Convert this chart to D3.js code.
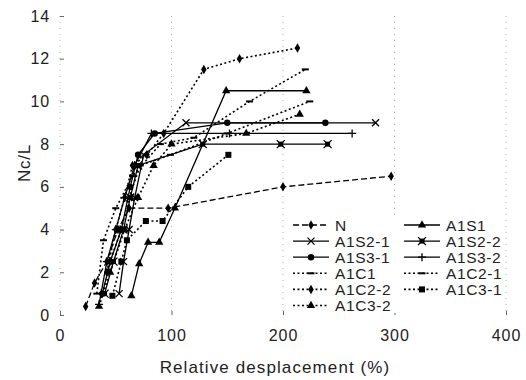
<!DOCTYPE html>
<html><head><meta charset="utf-8">
<script src="https://cdn.jsdelivr.net/npm/d3@7"></script>
<style>body{margin:0;background:#fff}svg{display:block}text{font-family:"Liberation Sans",Arial,sans-serif;fill:#222}</style>
</head><body><svg id="c" width="526" height="380"></svg>
<script>
const xTicks = [0, 100, 200, 300, 400];
const yTicks = [0, 2, 4, 6, 8, 10, 12, 14];
const seriesNames = ["N","A1S1","A1S2-1","A1S2-2","A1S3-1","A1S3-2","A1C1","A1C2-1","A1C2-2","A1C3-1","A1C3-2"];
const N_x      = [23, 31, 42, 52, 62, 97, 200, 297];
const N_y      = [0.4, 1.5, 2.5, 4, 5, 5, 6, 6.5];
const A1S1_x   = [64, 71, 79, 89, 103, 149, 221];
const A1S1_y   = [0.9, 2.4, 3.4, 3.4, 5, 10.5, 10.5];
const A1S2_1_x = [53, 57, 62, 67, 75, 113, 283];
const A1S2_1_y = [1, 2.5, 4, 5.5, 7.5, 9, 9];
const A1S2_2_x = [40, 48, 57, 63, 70, 128, 198, 240];
const A1S2_2_y = [1, 2.5, 4, 5.5, 7, 8, 8, 8];
const A1S3_1_x = [38, 45, 55, 63, 70, 85, 150, 238];
const A1S3_1_y = [1, 2.5, 4, 6, 7.5, 8.5, 9, 9];
const A1S3_2_x = [35, 42, 50, 58, 67, 82, 152, 262];
const A1S3_2_y = [0.5, 2.5, 4, 5.5, 7, 8.5, 8.5, 8.5];
const A1C1_x   = [33, 39, 50, 65, 90, 120, 170, 220];
const A1C1_y   = [1, 3.5, 5, 6.5, 8, 8.3, 10, 11.5];
const A1C2_1_x = [38, 45, 55, 62, 72, 99, 150, 224];
const A1C2_1_y = [1, 2.5, 4, 5.5, 7, 7.5, 8.5, 10];
const A1C2_2_x = [42, 50, 58, 65, 78, 93, 129, 161, 213];
const A1C2_2_y = [2, 4, 5.5, 7, 7.5, 8.5, 11.5, 12, 12.5];
const A1C3_1_x = [47, 55, 60, 77, 92, 115, 151];
const A1C3_1_y = [0.9, 2.5, 3.5, 4.4, 4.4, 6, 7.5];
const A1C3_2_x = [35, 45, 58, 70, 84, 100, 167, 215];
const A1C3_2_y = [0.4, 2, 4, 5.5, 7, 8, 8.5, 9.4];

const seriesX = [N_x, A1S1_x, A1S2_1_x, A1S2_2_x, A1S3_1_x, A1S3_2_x, A1C1_x, A1C2_1_x, A1C2_2_x, A1C3_1_x, A1C3_2_x];
const seriesY = [N_y, A1S1_y, A1S2_1_y, A1S2_2_y, A1S3_1_y, A1S3_2_y, A1C1_y, A1C2_1_y, A1C2_2_y, A1C3_1_y, A1C3_2_y];
const dashes  = ["6,3", null, null, null, null, null, "2,2.5", "2,2.5", "2,2.5", "2,2.5", "2,2.5"];
const markers = ["diamond","triangle","x","xsquare","circle","plus","dash","dash","diamond","square","triangle"];

const svg = d3.select("#c");
const x = d3.scaleLinear().domain([0, 400]).range([60, 506]);
const y = d3.scaleLinear().domain([0, 14]).range([315, 16]);

// grid (faint dotted)
const g = svg.append("g");
g.selectAll("line.v").data(xTicks).join("line")
  .attr("x1", d => x(d)).attr("x2", d => x(d)).attr("y1", y(14)).attr("y2", y(0))
  .attr("stroke", "#999").attr("stroke-width", 0.8).attr("stroke-dasharray", "1,5");

// axes
const yAxis = d3.axisLeft(y).tickValues(yTicks).tickSize(-4).tickPadding(10);
const ya = svg.append("g").attr("transform", `translate(${x(0)},0)`).call(yAxis);
ya.select(".domain").remove();
ya.selectAll(".tick line").attr("stroke", "#666");
ya.selectAll("text").attr("font-size", 16).attr("letter-spacing", 0.8).attr("fill", "#222");
const xAxis = d3.axisBottom(x).tickValues(xTicks).tickSize(-4).tickPadding(15);
const xa = svg.append("g").attr("transform", `translate(0,${y(0)})`).call(xAxis);
xa.select(".domain").remove();
xa.selectAll(".tick line").attr("stroke", "#666");
xa.selectAll("text").attr("font-size", 16).attr("letter-spacing", 1).attr("fill", "#222");

svg.append("text").attr("x", 275).attr("y", 373).attr("text-anchor", "middle").attr("font-size", 17).attr("letter-spacing", 1.1).text("Relative desplacement (%)");
svg.append("text").attr("transform", "translate(30,163) rotate(-90)").attr("text-anchor", "middle").attr("font-size", 17).attr("letter-spacing", 0.8).text("Nc/L");

function drawMarker(sel, type, cx, cy) {
  const s = sel.append("g").attr("transform", `translate(${cx},${cy})`);
  if (type === "diamond") s.append("path").attr("d", d3.symbol(d3.symbolDiamond, 26)()).attr("fill", "#000");
  else if (type === "triangle") s.append("path").attr("d", d3.symbol(d3.symbolTriangle, 30)()).attr("fill", "#000");
  else if (type === "circle") s.append("circle").attr("r", 3.2).attr("fill", "#000");
  else if (type === "square") s.append("rect").attr("x", -3).attr("y", -3).attr("width", 6).attr("height", 6).attr("fill", "#000");
  else if (type === "x") s.append("path").attr("d", "M-3.5,-3.5L3.5,3.5M-3.5,3.5L3.5,-3.5").attr("stroke", "#000").attr("stroke-width", 1.3);
  else if (type === "xsquare") { s.append("rect").attr("x", -2.5).attr("y", -2.5).attr("width", 5).attr("height", 5).attr("fill", "#000");
    s.append("path").attr("d", "M-4,-4L4,4M-4,4L4,-4").attr("stroke", "#000").attr("stroke-width", 1.3); }
  else if (type === "plus") s.append("path").attr("d", "M-4,0L4,0M0,-4L0,4").attr("stroke", "#000").attr("stroke-width", 1.3);
  else if (type === "dash") s.append("path").attr("d", "M-3.5,0L3.5,0").attr("stroke", "#000").attr("stroke-width", 2);
}

const line = d3.line().x(d => x(d[0])).y(d => y(d[1]));
const plot = svg.append("g");
seriesNames.forEach((name, i) => {
  const pts = seriesX[i].map((v, j) => [v, seriesY[i][j]]);
  plot.append("path").datum(pts).attr("d", line).attr("fill", "none")
    .attr("stroke", "#000").attr("stroke-width", dashes[i] && dashes[i] !== "6,3" ? 1.6 : 1.3)
    .attr("stroke-dasharray", dashes[i]);
  pts.forEach(p => drawMarker(plot, markers[i], x(p[0]), y(p[1])));
});

// legend
const lg = svg.append("g");
lg.append("rect").attr("x", 288).attr("y", 216).attr("width", 212).attr("height", 97).attr("fill", "#fff");
seriesNames.forEach((name, i) => {
  const col = i % 2, row = Math.floor(i / 2);
  const lx = col === 0 ? 293 : 404, ty = 225 + row * 16.1;
  lg.append("line").attr("x1", lx).attr("x2", lx + 36).attr("y1", ty).attr("y2", ty)
    .attr("stroke", "#000").attr("stroke-width", dashes[i] && dashes[i] !== "6,3" ? 1.6 : 1.3)
    .attr("stroke-dasharray", dashes[i]);
  drawMarker(lg, markers[i], lx + 18, ty);
  lg.append("text").attr("x", lx + 42).attr("y", ty + 5.5).attr("font-size", 15.5).attr("letter-spacing", 0.6).text(name);
});
</script></body></html>
